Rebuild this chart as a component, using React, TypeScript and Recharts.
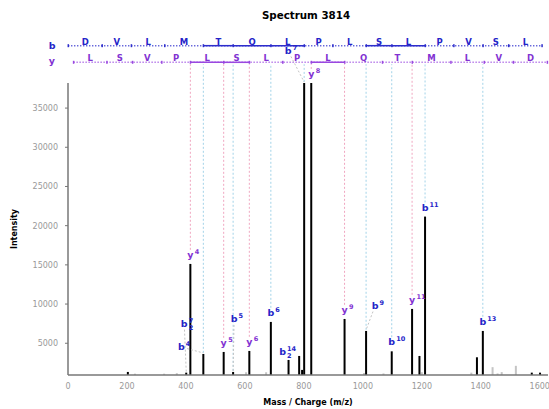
import React from "react";
import {
  ComposedChart,
  Scatter,
  ErrorBar,
  XAxis,
  YAxis,
  ReferenceLine,
  ReferenceDot,
  Label,
} from "recharts";

// peaks
const PEAK_MZ = [
  203, 227, 326, 369, 401, 415, 459, 528, 560, 604, 615, 672, 688, 748, 784,
  794, 801, 825, 938, 1004, 1011, 1070, 1098, 1167, 1192, 1200, 1211, 1368,
  1387, 1407, 1440, 1457, 1471, 1519, 1573, 1601,
];
const PEAK_INTENSITY = [
  1340, 1120, 1120, 1180, 1250, 15120, 3630, 3890, 1340, 1300, 4020, 1300,
  7720, 2870, 3380, 1600, 38190, 38190, 8100, 1200, 6570, 1150, 3970, 9380,
  3380, 1300, 21160, 1250, 3210, 6570, 1950, 1150, 1320, 2120, 1250, 1250,
];
const PEAK_KIND = [
  "main", "minor", "minor", "minor", "main", "main", "main", "main", "main",
  "minor", "main", "minor", "main", "main", "main", "main", "main", "main",
  "main", "minor", "main", "minor", "main", "main", "main", "minor", "main",
  "minor", "main", "main", "minor", "minor", "minor", "minor", "main", "main",
];
const PEAK_ION = [
  "", "", "", "", "b7++", "y4", "b4", "y5", "b5", "", "y6", "", "b6", "b14++",
  "", "", "b7", "y8", "y9", "", "b9", "", "b10", "y11", "", "", "b11", "", "",
  "b13", "", "", "", "", "", "",
];

// peptide and fragment ladders (m/z)
const SEQUENCE = ["D", "V", "L", "M", "T", "Q", "L", "P", "L", "S", "L", "P", "V", "S", "L"];
const B_IONS = [
  1.0, 116.0, 215.1, 328.2, 459.2, 560.3, 688.3, 801.4, 898.5, 1011.6, 1098.6,
  1211.7, 1308.7, 1407.8, 1494.8, 1607.9,
];
const Y_IONS = [
  19.0, 132.1, 219.1, 318.2, 415.3, 528.3, 615.4, 728.5, 825.5, 938.6, 1066.7,
  1167.7, 1298.7, 1411.8, 1510.9, 1625.9,
];

const X_TICKS = [0, 200, 400, 600, 800, 1000, 1200, 1400, 1600];
const Y_TICKS = [5000, 10000, 15000, 20000, 25000, 30000, 35000];

const MZ_MAX = 1628;
const INT_MIN = 950;
const INT_MAX = 38200;
// rows above the plot, in intensity units
const ROW_B = 42960;
const ROW_Y = 40840;
const GUIDE_TOP = 40600;

const B_TEXT = "#2424c8";
const Y_TEXT = "#8232d2";
const B_ROW = "#2d2dcc";
const Y_ROW = "#9a48e0";
const B_GUIDE = "#a3d3e8";
const Y_GUIDE = "#f0a6c0";

// labels moved away from their peak (px)
const LABEL_SHIFT: Record<string, [number, number]> = {
  "b7++": [-2, -40],
  b4: [-22, 2],
  b5: [1, -44],
  "b14++": [-6, 1],
  b7: [-16, -23],
  b9: [9, -16],
};
const WITH_LEADER = ["b7++", "b4", "b5", "b7", "b9"];

const parseIon = (ion: string) => {
  const m = /^([by])(\d+)(\+*)$/.exec(ion);
  if (!m) return null;
  return { type: m[1], n: Number(m[2]), z: Math.max(1, m[3].length) };
};

const peaks = PEAK_MZ.map((mz, i) => ({
  mz,
  intensity: PEAK_INTENSITY[i],
  kind: PEAK_KIND[i],
  ion: PEAK_ION[i],
  drop: [PEAK_INTENSITY[i] - INT_MIN, 0],
}));
const mainPeaks = peaks.filter((p) => p.kind === "main");
const minorPeaks = peaks.filter((p) => p.kind === "minor");

function IonLabel(props: any) {
  const { cx, cy, payload } = props;
  const ion = parseIon(payload.ion);
  if (!ion) return <g />;
  const [dx, dy] = LABEL_SHIFT[payload.ion] ?? [0, 0];
  const color = ion.type === "b" ? B_TEXT : Y_TEXT;
  const x = cx + dx;
  const base = cy - 6 + dy;
  let leader = null;
  if (WITH_LEADER.includes(payload.ion)) {
    const tx = cx;
    const ty = cy - 1;
    const vx = tx - x;
    const vy = ty - (base - 3);
    const d = Math.hypot(vx, vy);
    leader = (
      <line
        x1={x + (vx / d) * 6}
        y1={base - 3 + (vy / d) * 6}
        x2={tx}
        y2={ty}
        stroke="#c4c4c4"
        strokeWidth={1}
        strokeDasharray="2 2"
      />
    );
  }
  return (
    <g>
      {leader}
      <text x={x} y={base} textAnchor="middle" fontSize={9.5} fontWeight="bold" fill={color}>
        {ion.type}
      </text>
      <text x={x + 4.5} y={base - 4} fontSize={6.5} fontWeight="bold" fill={color}>
        {ion.n}
      </text>
      {ion.z > 1 && (
        <text x={x + 4.5} y={base + 3} fontSize={6.5} fontWeight="bold" fill={color}>
          {ion.z}
        </text>
      )}
    </g>
  );
}

function ladder(
  bounds: number[],
  letters: string[],
  rowY: number,
  observed: Set<number>,
  lineColor: string,
  textColor: string,
  key: string
) {
  const els: React.ReactNode[] = [];
  els.push(
    <ReferenceLine
      key={key + "-dots"}
      segment={[
        { x: bounds[0], y: rowY },
        { x: bounds[bounds.length - 1], y: rowY },
      ]}
      stroke={lineColor}
      strokeWidth={1.5}
      strokeDasharray="1 2"
      ifOverflow="visible"
    />
  );
  for (let i = 1; i < bounds.length; i++) {
    if (observed.has(i - 1) && observed.has(i)) {
      els.push(
        <ReferenceLine
          key={key + "-solid-" + i}
          segment={[
            { x: bounds[i - 1], y: rowY },
            { x: bounds[i], y: rowY },
          ]}
          stroke={lineColor}
          strokeWidth={1.5}
          ifOverflow="visible"
        />
      );
    }
    els.push(
      <ReferenceDot
        key={key + "-aa-" + i}
        x={(bounds[i - 1] + bounds[i]) / 2}
        y={rowY}
        r={2}
        ifOverflow="visible"
        shape={(p: any) => (
          <text
            x={p.cx}
            y={p.cy - 1}
            textAnchor="middle"
            fontSize={8.5}
            fontWeight="bold"
            fill={textColor}
          >
            {letters[i - 1]}
          </text>
        )}
      />
    );
  }
  bounds.forEach((b, i) =>
    els.push(
      <ReferenceDot
        key={key + "-tick-" + i}
        x={b}
        y={rowY}
        r={1}
        ifOverflow="visible"
        shape={(p: any) => (
          <rect x={p.cx - 0.75} y={p.cy - 1.5} width={1.5} height={3} fill={lineColor} />
        )}
      />
    )
  );
  return els;
}

export default function App() {
  const observedB = new Set<number>();
  const observedY = new Set<number>();
  peaks.forEach((p) => {
    const ion = parseIon(p.ion);
    if (ion && ion.z === 1) (ion.type === "b" ? observedB : observedY).add(ion.n);
  });

  const guides = peaks
    .filter((p) => {
      const ion = parseIon(p.ion);
      return ion && ion.z === 1;
    })
    .map((p) => {
      const ion = parseIon(p.ion)!;
      const bottom = WITH_LEADER.includes(p.ion) ? p.intensity + 150 : p.intensity + 1800;
      return (
        <ReferenceLine
          key={"guide-" + p.ion}
          segment={[
            { x: p.mz, y: bottom },
            { x: p.mz, y: GUIDE_TOP },
          ]}
          stroke={ion.type === "b" ? B_GUIDE : Y_GUIDE}
          strokeWidth={1}
          strokeDasharray="2 2"
          ifOverflow="visible"
        />
      );
    });

  const yLetters = [...SEQUENCE].reverse();

  return (
    <div
      style={{
        position: "absolute",
        left: 0,
        top: 0,
        width: 549,
        height: 409,
        background: "#fff",
        fontFamily: '"DejaVu Sans", sans-serif',
      }}
    >
      <div
        style={{
          position: "absolute",
          left: 68,
          top: 0,
          width: 476,
          height: 30,
          lineHeight: "30px",
          textAlign: "center",
          fontWeight: "bold",
          fontSize: 10.3,
          color: "#000",
        }}
      >
        Spectrum 3814
      </div>
      <ComposedChart
        width={549}
        height={409}
        margin={{ top: 83, right: 1, bottom: 0, left: 0 }}
      >
        <XAxis
          type="number"
          dataKey="mz"
          domain={[0, MZ_MAX]}
          ticks={X_TICKS}
          tickLine={false}
          axisLine={{ stroke: "#777", strokeWidth: 1.5 }}
          tick={{ fill: "#999", fontSize: 8 }}
          height={34}
        >
          <Label
            value="Mass / Charge (m/z)"
            position="insideBottom"
            offset={4}
            fontSize={8}
            fontWeight="bold"
            fill="#000"
          />
        </XAxis>
        <YAxis
          type="number"
          dataKey="intensity"
          domain={[INT_MIN, INT_MAX]}
          ticks={Y_TICKS}
          width={68}
          tickSize={3}
          tickMargin={7}
          tickLine={{ stroke: "#777" }}
          axisLine={{ stroke: "#777", strokeWidth: 1.5 }}
          tick={{ fill: "#999", fontSize: 8 }}
        >
          <Label
            value="Intensity"
            angle={-90}
            position="insideLeft"
            offset={14}
            fontSize={8}
            fontWeight="bold"
            fill="#000"
            style={{ textAnchor: "middle" }}
          />
        </YAxis>

        {guides}
        {ladder(B_IONS, SEQUENCE, ROW_B, observedB, B_ROW, B_TEXT, "b")}
        {ladder(Y_IONS, yLetters, ROW_Y, observedY, Y_ROW, Y_TEXT, "y")}
        <ReferenceDot
          x={-54}
          y={ROW_B}
          r={1}
          ifOverflow="visible"
          shape={(p: any) => (
            <text x={p.cx} y={p.cy + 3} textAnchor="middle" fontSize={9.5} fontWeight="bold" fill={B_TEXT}>
              b
            </text>
          )}
        />
        <ReferenceDot
          x={-55}
          y={ROW_Y}
          r={1}
          ifOverflow="visible"
          shape={(p: any) => (
            <text x={p.cx} y={p.cy + 2} textAnchor="middle" fontSize={9.5} fontWeight="bold" fill={Y_TEXT}>
              y
            </text>
          )}
        />

        <Scatter
          data={minorPeaks}
          dataKey="intensity"
          isAnimationActive={false}
          shape={() => <g />}
        >
          <ErrorBar
            dataKey="drop"
            direction="y"
            width={0}
            stroke="#c4c4c4"
            strokeWidth={2}
            isAnimationActive={false}
          />
        </Scatter>
        <Scatter
          data={mainPeaks}
          dataKey="intensity"
          isAnimationActive={false}
          shape={(p: any) => <IonLabel {...p} />}
        >
          <ErrorBar
            dataKey="drop"
            direction="y"
            width={0}
            stroke="#000"
            strokeWidth={2}
            isAnimationActive={false}
          />
        </Scatter>
      </ComposedChart>
    </div>
  );
}
